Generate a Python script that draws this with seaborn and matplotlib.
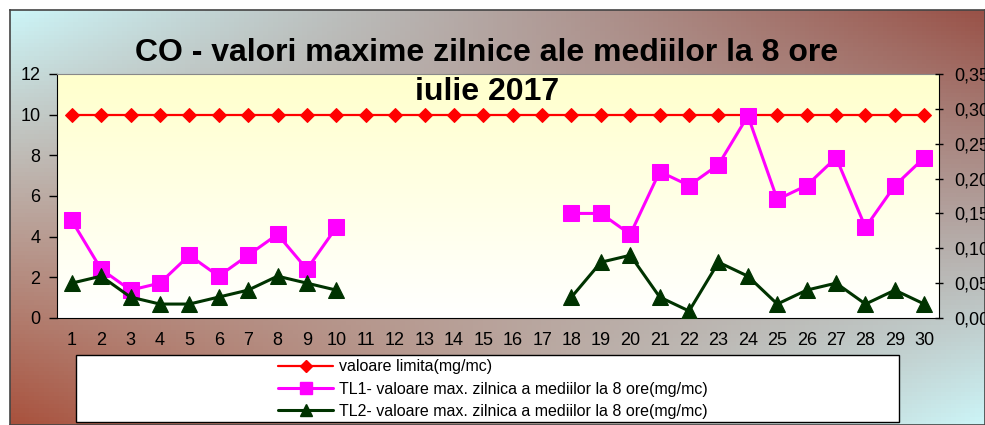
import numpy as np
import pandas as pd
import matplotlib
matplotlib.use("Agg")
import matplotlib.pyplot as plt
from matplotlib.lines import Line2D
from matplotlib.patches import Rectangle
from matplotlib.ticker import FuncFormatter, MultipleLocator
import seaborn as sns

# zilele lunii iulie 2017
days = list(range(1, 31))
# valoare limita (mg/mc), axa din stanga
limit_values = [10] * 30
# TL1 / TL2 (mg/mc), axa din dreapta; zilele 11-17 lipsesc
tl1_days = [1, 2, 3, 4, 5, 6, 7, 8, 9, 10,
            18, 19, 20, 21, 22, 23, 24, 25, 26, 27, 28, 29, 30]
tl1_values = [0.14, 0.07, 0.04, 0.05, 0.09, 0.06, 0.09, 0.12, 0.07, 0.13,
              0.15, 0.15, 0.12, 0.21, 0.19, 0.22, 0.29, 0.17, 0.19, 0.23, 0.13, 0.19, 0.23]
tl2_values = [0.05, 0.06, 0.03, 0.02, 0.02, 0.03, 0.04, 0.06, 0.05, 0.04,
              0.03, 0.08, 0.09, 0.03, 0.01, 0.08, 0.06, 0.02, 0.04, 0.05, 0.02, 0.04, 0.02]
segments = [1] * 10 + [2] * 13

labels = ["valoare limita(mg/mc)",
          "TL1- valoare max. zilnica a mediilor la 8 ore(mg/mc)",
          "TL2- valoare max. zilnica a mediilor la 8 ore(mg/mc)"]

sns.set_style("white")
plt.rcParams["font.family"] = ["Liberation Sans", "DejaVu Sans"]
plt.rcParams["text.color"] = "black"
plt.rcParams["xtick.color"] = "black"
plt.rcParams["ytick.color"] = "black"
plt.rcParams["axes.labelcolor"] = "black"

W, H = 985, 425
fig = plt.figure(figsize=(W / 100, H / 100), dpi=100)
fig.patch.set_facecolor("white")

# fundal cu gradient (cadrul graficului)
bg = fig.add_axes([10 / W, 0, 1 - 10 / W, (H - 10) / H])
c_tl = np.array([0.80, 0.96, 0.97])
c_tr = np.array([0.60, 0.32, 0.28])
c_bl = np.array([0.66, 0.32, 0.24])
c_br = np.array([0.80, 0.96, 0.97])
u = np.linspace(0, 1, 200)[None, :, None]
v = np.linspace(0, 1, 100)[:, None, None]
img = (1 - v) * ((1 - u) * c_tl + u * c_tr) + v * ((1 - u) * c_bl + u * c_br)
bg.imshow(img, aspect="auto", extent=(0, 1, 0, 1), origin="upper")
bg.set_xlim(0, 1)
bg.set_ylim(0, 1)
bg.set_xticks([])
bg.set_yticks([])
for s in bg.spines.values():
    s.set_color("#444444")
    s.set_linewidth(1.2)

# zona graficului
x0, x1, y0, y1 = 57, 939, 74, 318
ax = fig.add_axes([x0 / W, (H - y1) / H, (x1 - x0) / W, (y1 - y0) / H])
ax.set_facecolor("none")
grad = np.linspace(0, 1, 100)[:, None, None]
top = np.array([1.0, 1.0, 0.80])
bottom = np.array([1.0, 1.0, 1.0])
area = (1 - grad) * top + grad * bottom
area = np.repeat(area, 2, axis=1)
ax.imshow(area, aspect="auto", extent=(0.5, 30.5, 0, 12), origin="upper", zorder=0)

df_lim = pd.DataFrame({"zi": days, "val": limit_values})
sns.lineplot(data=df_lim, x="zi", y="val", ax=ax, color="#ff0000", lw=1.6,
             marker="D", markersize=7, markeredgecolor="#ff0000", zorder=3)
ax.set_xlim(0.5, 30.5)
ax.set_ylim(0, 12)
ax.yaxis.set_major_locator(MultipleLocator(2))
ax.set_xticks(days)
ax.set_xticks(np.arange(0.5, 31, 1), minor=True)
ax.tick_params(axis="x", which="major", length=0, pad=10, labelsize=13, labelcolor="black")
ax.tick_params(axis="x", which="minor", length=6, width=1, direction="out", color="black")
ax.tick_params(axis="y", length=6, width=1, direction="out", color="black", pad=6,
               labelsize=13, left=True, labelcolor="black")
ax.set_xlabel("")
ax.set_ylabel("")
ax.spines["left"].set_color("black")
ax.spines["bottom"].set_color("black")
ax.spines["top"].set_color("#888888")
ax.spines["right"].set_color("black")

ax2 = ax.twinx()
df_tl = pd.DataFrame({"zi": tl1_days, "tl1": tl1_values, "tl2": tl2_values, "seg": segments})
sns.lineplot(data=df_tl, x="zi", y="tl1", units="seg", estimator=None, ax=ax2,
             color="#ff00ff", lw=2.2, marker="s", markersize=11,
             markeredgecolor="#ff00ff", zorder=4)
sns.lineplot(data=df_tl, x="zi", y="tl2", units="seg", estimator=None, ax=ax2,
             color="#003300", lw=2.2, marker="^", markersize=11,
             markeredgecolor="#003300", zorder=5)
ax2.set_ylim(0, 0.35)
ax2.set_xlim(0.5, 30.5)
ax2.yaxis.set_major_locator(MultipleLocator(0.05))
ax2.yaxis.set_major_formatter(FuncFormatter(lambda val, pos: f"{val:.2f}".replace(".", ",")))
ax2.tick_params(axis="y", length=6, width=1, direction="inout", color="black", pad=8,
                labelsize=13, right=True, labelcolor="black")
ax2.set_ylabel("")
for s in ax2.spines.values():
    s.set_visible(False)

# titlu
fig.text(487 / W, 1 - 53 / H, "CO - valori maxime zilnice ale mediilor la 8 ore",
         ha="center", va="center", fontsize=23, fontweight="bold", color="black")
fig.text(487 / W, 1 - 92 / H, "iulie 2017",
         ha="center", va="center", fontsize=23, fontweight="bold", color="black")

# legenda
fig.patches.append(Rectangle((76 / W, (H - 422) / H), (899 - 76) / W, (422 - 355) / H,
                             transform=fig.transFigure, facecolor="white",
                             edgecolor="black", lw=1, zorder=2))
handles = [
    Line2D([], [], color="#ff0000", lw=1.6, marker="D", markersize=6),
    Line2D([], [], color="#ff00ff", lw=2.2, marker="s", markersize=8),
    Line2D([], [], color="#003300", lw=2.2, marker="^", markersize=8),
]
leg = fig.legend(handles, labels, loc="upper left", bbox_to_anchor=(272 / W, 1 - 353 / H),
                 frameon=False, fontsize=11.5, handlelength=3.4, handletextpad=0.4,
                 labelspacing=0.45, borderaxespad=0)
for t in leg.get_texts():
    t.set_color("black")
leg.set_zorder(3)

fig.savefig("out.png", dpi=100)
